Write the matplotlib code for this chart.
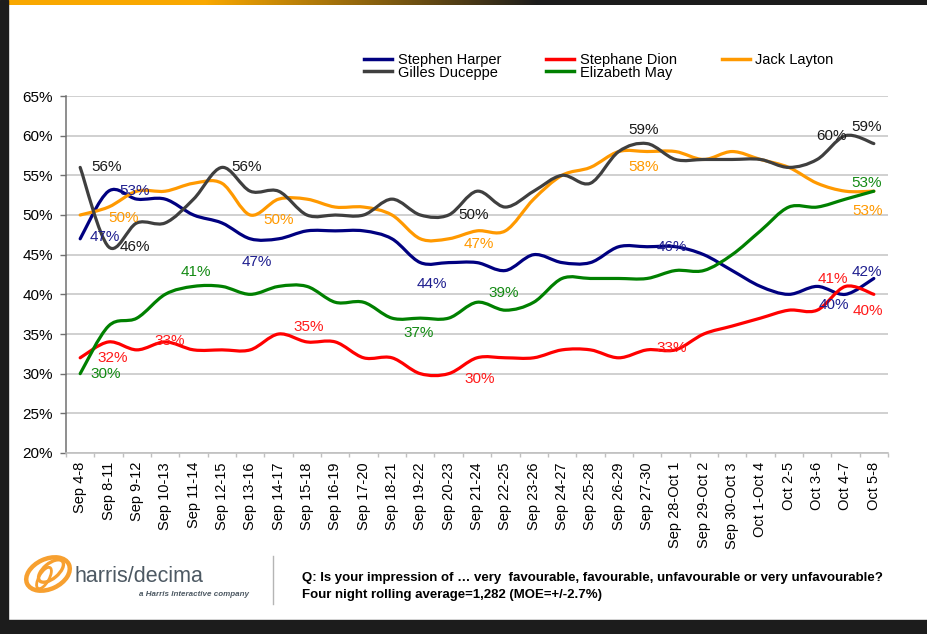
import numpy as np
import matplotlib
matplotlib.use("Agg")
import matplotlib.pyplot as plt
from matplotlib.path import Path
from matplotlib.patches import PathPatch, Rectangle, Ellipse
from matplotlib.lines import Line2D
from matplotlib import font_manager

plt.rcParams['font.family'] = ['Liberation Sans', 'DejaVu Sans']

# ---------------- data ----------------
categories = ["Sep 4-8", "Sep 8-11", "Sep 9-12", "Sep 10-13", "Sep 11-14", "Sep 12-15",
              "Sep 13-16", "Sep 14-17", "Sep 15-18", "Sep 16-19", "Sep 17-20", "Sep 18-21",
              "Sep 19-22", "Sep 20-23", "Sep 21-24", "Sep 22-25", "Sep 23-26", "Sep 24-27",
              "Sep 25-28", "Sep 26-29", "Sep 27-30", "Sep 28-Oct 1", "Sep 29-Oct 2",
              "Sep 30-Oct 3", "Oct 1-Oct 4", "Oct 2-5", "Oct 3-6", "Oct 4-7", "Oct 5-8"]
harper  = [47, 53, 52, 52, 50, 49, 47, 47, 48, 48, 48, 47, 44, 44, 44, 43, 45, 44, 44, 46, 46, 46, 45, 43, 41, 40, 41, 40, 42]
dion    = [32, 34, 33, 34, 33, 33, 33, 35, 34, 34, 32, 32, 30, 30, 32, 32, 32, 33, 33, 32, 33, 33, 35, 36, 37, 38, 38, 41, 40]
layton  = [50, 51, 53, 53, 54, 54, 50, 52, 52, 51, 51, 50, 47, 47, 48, 48, 52, 55, 56, 58, 58, 58, 57, 58, 57, 56, 54, 53, 53]
duceppe = [56, 46, 49, 49, 52, 56, 53, 53, 50, 50, 50, 52, 50, 50, 53, 51, 53, 55, 54, 58, 59, 57, 57, 57, 57, 56, 57, 60, 59]
may     = [30, 36, 37, 40, 41, 41, 40, 41, 41, 39, 39, 37, 37, 37, 39, 38, 39, 42, 42, 42, 42, 43, 43, 45, 48, 51, 51, 52, 53]
yticks = [20, 25, 30, 35, 40, 45, 50, 55, 60, 65]

series = {
    "Stephen Harper": (harper, "#000080", "#1f1f8f"),
    "Stephane Dion": (dion, "#ff0000", "#ff1a1a"),
    "Jack Layton": (layton, "#ff9900", "#ff9900"),
    "Gilles Duceppe": (duceppe, "#3f3f3f", "#1a1a1a"),
    "Elizabeth May": (may, "#008000", "#138a13"),
}

# data label placement: (series, index, dx px, dy px)
label_spec = [
    ("Gilles Duceppe", 0, 26, 0), ("Stephen Harper", 1, 26, 0), ("Jack Layton", 0, 43, -3),
    ("Stephen Harper", 0, 25, 2), ("Gilles Duceppe", 1, 26, 0), ("Gilles Duceppe", 5, 25, 0),
    ("Jack Layton", 6, 28, -5), ("Stephen Harper", 6, 7, -23), ("Elizabeth May", 4, 2, 14),
    ("Stephane Dion", 7, 30, 7), ("Stephane Dion", 0, 33, 0), ("Stephane Dion", 2, 33, 9),
    ("Elizabeth May", 0, 26, 0), ("Gilles Duceppe", 13, 25, 0), ("Jack Layton", 13, 30, -5),
    ("Stephen Harper", 12, 12, -21), ("Elizabeth May", 14, 27, 9), ("Elizabeth May", 12, -2, -15),
    ("Stephane Dion", 13, 31, -5), ("Gilles Duceppe", 20, -3, 14), ("Jack Layton", 20, -3, -15),
    ("Stephen Harper", 21, -4, 0), ("Stephane Dion", 21, -4, 2), ("Gilles Duceppe", 27, -14, 0),
    ("Gilles Duceppe", 28, -7, 17), ("Elizabeth May", 28, -7, 8), ("Jack Layton", 28, -6, -20),
    ("Stephen Harper", 28, -7, 6), ("Stephane Dion", 27, -13, 7), ("Stephen Harper", 27, -12, -11),
    ("Stephane Dion", 28, -6, -17),
]


def smooth_path(xs, ys):
    """Excel-like smoothed line as cubic Bezier path through the data points."""
    pts = np.column_stack([xs, ys]).astype(float)
    n = len(pts)
    verts = [pts[0]]
    codes = [Path.MOVETO]
    for i in range(n - 1):
        p0 = pts[i - 1] if i > 0 else pts[i]
        p1 = pts[i]
        p2 = pts[i + 1]
        p3 = pts[i + 2] if i + 2 < n else pts[i + 1]
        c1 = p1 + (p2 - p0) / 6.0
        c2 = p2 - (p3 - p1) / 6.0
        verts += [c1, c2, p2]
        codes += [Path.CURVE4] * 3
    return Path(verts, codes)


W, H = 928, 634
fig = plt.figure(figsize=(W / 100, H / 100), dpi=100)
fig.patch.set_facecolor("white")

ax = fig.add_axes([66 / W, 1 - 453 / H, (888 - 66) / W, (453 - 96) / H])
x = np.arange(len(categories))
ax.set_xlim(-0.5, len(categories) - 0.5)
ax.set_ylim(20, 65)

for y in yticks:
    ax.axhline(y, color="#c8c8c8", lw=1.2, zorder=1)

order = ["Stephen Harper", "Stephane Dion", "Jack Layton", "Elizabeth May", "Gilles Duceppe"]
for name in order:
    vals, col, _ = series[name]
    patch = PathPatch(smooth_path(x, vals), fill=False, edgecolor=col, lw=2.3,
                      capstyle="round", joinstyle="round", zorder=3)
    ax.add_patch(patch)

for name, idx, dx, dy in label_spec:
    vals, col, tcol = series[name]
    ax.annotate(f"{vals[idx]}%", (x[idx], vals[idx]), xytext=(dx, dy),
                textcoords="offset pixels", ha="center", va="center",
                fontsize=11, color=tcol, zorder=5)

ax.set_yticks(yticks)
ax.set_yticklabels([f"{v}%" for v in yticks])
ax.set_xticks(x)
ax.set_xticklabels(categories, rotation=90, va="top", ha="center")
ax.set_xticks(np.arange(-0.5, len(categories)), minor=True)
ax.tick_params(axis="x", which="major", length=0, pad=6.5, labelsize=10.5, colors="black")
ax.tick_params(axis="x", which="minor", length=3, color="#c0c0c0", width=1)
ax.tick_params(axis="y", which="major", length=4.5, width=1, color="#707070", pad=5,
               labelsize=11, labelcolor="black")
for s in ["top", "right"]:
    ax.spines[s].set_visible(False)
ax.spines["left"].set_color("#707070")
ax.spines["left"].set_linewidth(1.1)
ax.spines["bottom"].set_color("#c0c0c0")
ax.spines["bottom"].set_linewidth(1.2)

# legend
leg_order = ["Stephen Harper", "Gilles Duceppe", "Stephane Dion", "Elizabeth May", "Jack Layton"]
handles = [Line2D([], [], color=series[n][1], lw=2.5) for n in leg_order]
leg = fig.legend(handles, leg_order, ncol=3, loc="upper left",
                 bbox_to_anchor=(364 / W, 1 - 53 / H), frameon=False, fontsize=10.5,
                 handlelength=1.9, handletextpad=0.4, columnspacing=3.1,
                 labelspacing=-0.1, borderpad=0, borderaxespad=0)

# frame
fig.patches.append(Rectangle((0, 0), 8 / W, 1, transform=fig.transFigure,
                             color="#1c1c1c", zorder=0))
fig.patches.append(Rectangle((0, 0), 1, 14 / H, transform=fig.transFigure,
                             color="#1c1c1c", zorder=0))
gax = fig.add_axes([0, 1 - 5 / H, 1, 5 / H])
grad = np.zeros((1, 400, 3))
t = np.linspace(0, 1, 400)
orange = np.array([0.98, 0.66, 0.0])
dark = np.array([0.11, 0.11, 0.11])
w = np.clip((t - 0.22) / (0.36), 0, 1)[:, None]
grad[0] = orange * (1 - w) + dark * w
gax.imshow(grad, aspect="auto", extent=(0, 1, 0, 1))
gax.axis("off")

# logo
lax = fig.add_axes([20 / W, 1 - 598 / H, 56 / W, 48 / H])
lax.set_xlim(0, 56)
lax.set_ylim(0, 48)
lax.set_aspect("equal")
lax.axis("off")
lax.add_patch(Ellipse((28, 24), 46, 30, angle=25, fill=False, ec="#f7a030", lw=3.2))
lax.add_patch(Ellipse((31, 27), 30, 15, angle=40, fill=False, ec="#f7a030", lw=2.4))
lax.add_patch(Ellipse((24, 20), 10, 24, angle=-30, fill=False, ec="#f7a030", lw=2.0))
fig.text(74 / W, 1 - 577 / H, "harris/decima", fontsize=15.5, color="#4d5963",
         ha="left", va="center")
fig.text(249 / W, 1 - 594 / H, "a Harris Interactive company", fontsize=5.8,
         style="italic", weight="bold", color="#4d5963", ha="right", va="center")
fig.add_artist(Line2D([273 / W, 273 / W], [1 - 556 / H, 1 - 604 / H], color="#b5b5b5", lw=1))

names = {f.name for f in font_manager.fontManager.ttflist}
if "Liberation Sans Narrow" in names:
    ffam, fsz = ["Liberation Sans Narrow", "DejaVu Sans"], 11
else:
    ffam, fsz = ["Liberation Sans", "DejaVu Sans"], 9.5
fig.text(302 / W, 1 - 578 / H,
         "Q: Is your impression of \u2026 very  favourable, favourable, unfavourable or very unfavourable?",
         family=ffam, fontsize=fsz, weight="bold", ha="left", va="center")
fig.text(302 / W, 1 - 595 / H, "Four night rolling average=1,282 (MOE=+/-2.7%)",
         family=ffam, fontsize=fsz, weight="bold", ha="left", va="center")

fig.savefig("out.png", dpi=100, facecolor="white")
